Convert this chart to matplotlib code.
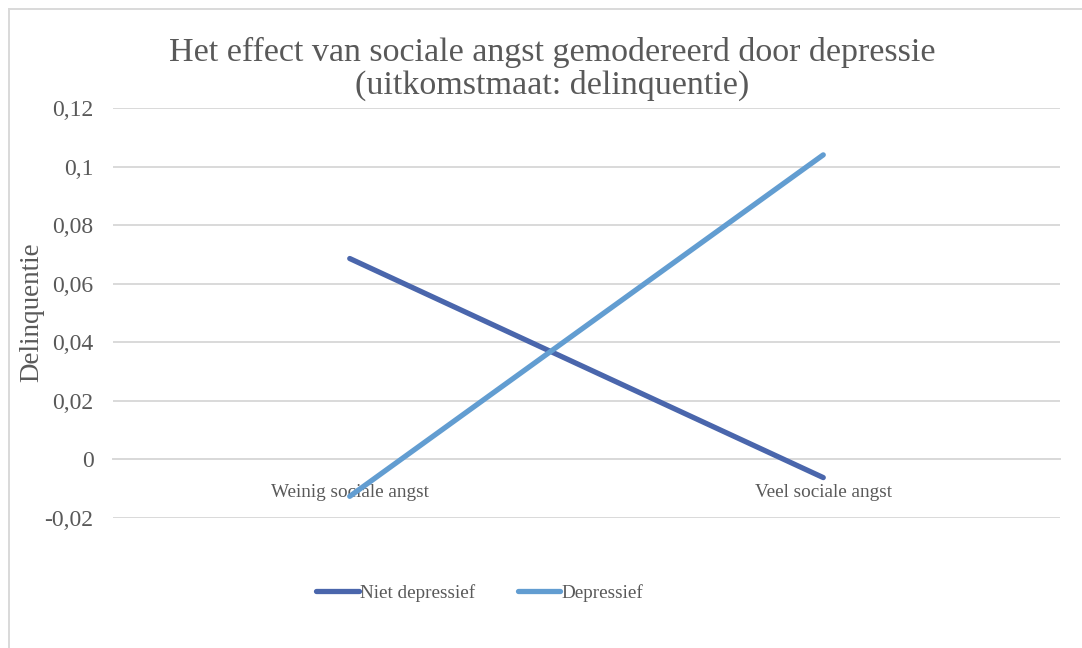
import matplotlib
matplotlib.use("Agg")
import matplotlib.pyplot as plt
from matplotlib.lines import Line2D

# Data
categories = ["Weinig sociale angst", "Veel sociale angst"]
niet_depressief = [0.0686, -0.0062]
depressief = [-0.0126, 0.1040]
series_names = ["Niet depressief", "Depressief"]
y_ticks = [-0.02, 0, 0.02, 0.04, 0.06, 0.08, 0.10, 0.12]
y_tick_labels = ["-0,02", "0", "0,02", "0,04", "0,06", "0,08", "0,1", "0,12"]

FONT = ["Liberation Serif", "DejaVu Serif"]
TXT = "#595959"
GRID = "#D9D9D9"
W, H = 1082, 648

plt.rcParams["font.family"] = FONT
fig = plt.figure(figsize=(W / 100, H / 100), dpi=100)

ax = fig.add_axes([113 / W, 1 - 518 / H, (1060 - 113) / W, (518 - 108) / H])
x = list(range(len(categories)))
ax.plot(x, niet_depressief, color="#4A66AC", lw=3.8, solid_capstyle="round", label=series_names[0], zorder=3)
ax.plot(x, depressief, color="#629DD1", lw=3.8, solid_capstyle="round", label=series_names[1], zorder=3)

ax.set_xlim(-0.5, 1.5)
ax.set_ylim(-0.02, 0.12)
ax.set_yticks(y_ticks)
ax.set_yticklabels(y_tick_labels)
ax.set_xticks(x)
ax.set_xticklabels(categories)
ax.grid(axis="y", color=GRID, lw=1.4)
ax.set_axisbelow(True)
for s in ["top", "right", "left"]:
    ax.spines[s].set_visible(False)
ax.spines["bottom"].set_position(("data", 0))
ax.spines["bottom"].set_color(GRID)
ax.spines["bottom"].set_linewidth(1.4)
ax.tick_params(axis="y", length=0, pad=14, labelsize=17, labelcolor=TXT)
ax.tick_params(axis="x", length=0, pad=17.5, labelsize=13.8, labelcolor=TXT)

ax.set_ylabel("Delinquentie", fontsize=19.5, color=TXT)
ax.yaxis.set_label_coords(44 / W, 1 - 312 / H, transform=fig.transFigure)

fig.text(552 / W, 1 - 94 / H, "Het effect van sociale angst gemodereerd door depressie\n(uitkomstmaat: delinquentie)",
         ha="center", va="baseline", fontsize=24.5, color=TXT, linespacing=1.07, multialignment="center")

handles = [Line2D([], [], color="#4A66AC", lw=3.8, solid_capstyle="round"),
           Line2D([], [], color="#629DD1", lw=3.8, solid_capstyle="round")]
leg = fig.legend(handles, series_names, loc="center", bbox_to_anchor=(480 / W, 1 - 593 / H), ncol=2,
                 frameon=False, fontsize=13.8, handlelength=2.2, handletextpad=0.1, columnspacing=2.2)
for t in leg.get_texts():
    t.set_color(TXT)

# chart border (top and left visible)
fig.add_artist(Line2D([8.5 / W, 8.5 / W], [0, 1 - 8.5 / H], transform=fig.transFigure, color=GRID, lw=1.4))
fig.add_artist(Line2D([8.5 / W, 1], [1 - 8.5 / H, 1 - 8.5 / H], transform=fig.transFigure, color=GRID, lw=1.4))

fig.savefig("out.png", dpi=100)
